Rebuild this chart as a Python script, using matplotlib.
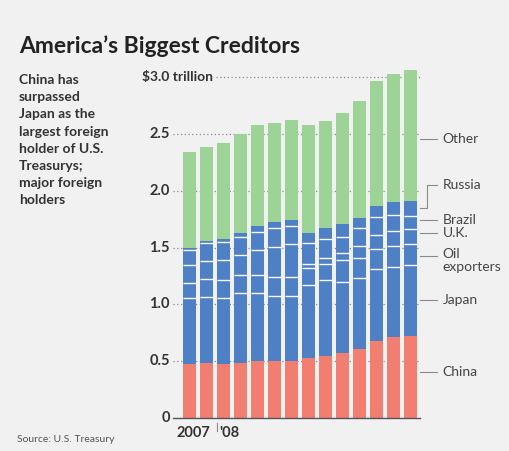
import numpy as np
import matplotlib
matplotlib.use("Agg")
import matplotlib.pyplot as plt

plt.rcParams["font.family"] = ["Lato", "DejaVu Sans"]

# values in $ trillion, one bar per month (late 2007 through 2008)
china  = [0.475, 0.490, 0.480, 0.486, 0.500, 0.503, 0.500, 0.530, 0.550, 0.575, 0.613, 0.680, 0.710, 0.725]
japan  = [0.579, 0.579, 0.580, 0.612, 0.598, 0.574, 0.577, 0.640, 0.665, 0.625, 0.617, 0.632, 0.622, 0.622]
oil    = [0.136, 0.151, 0.155, 0.161, 0.161, 0.168, 0.168, 0.148, 0.141, 0.191, 0.176, 0.176, 0.185, 0.182]
uk     = [0.157, 0.162, 0.176, 0.176, 0.220, 0.257, 0.287, 0.042, 0.050, 0.059, 0.108, 0.123, 0.129, 0.134]
brazil = [0.133, 0.156, 0.161, 0.161, 0.161, 0.168, 0.158, 0.178, 0.167, 0.146, 0.156, 0.161, 0.140, 0.117]
russia = [0.020, 0.020, 0.024, 0.030, 0.053, 0.058, 0.053, 0.088, 0.097, 0.111, 0.093, 0.096, 0.112, 0.132]
other  = [0.842, 0.828, 0.840, 0.869, 0.881, 0.864, 0.878, 0.948, 0.942, 0.973, 1.028, 1.099, 1.125, 1.149]

yticks = [0, 0.5, 1.0, 1.5, 2.0, 2.5]
ytick_labels = ["0", "0.5", "1.0", "1.5", "2.0", "2.5"]

RED   = "#f27e71"
BLUE  = "#4d80c5"
GREEN = "#9dd396"
BG    = "#f1f1f1"
TXT   = "#333333"

fig = plt.figure(figsize=(5.1, 4.51), dpi=100, facecolor=BG)
ax = fig.add_axes([173/510, 32.7/451, 247/510, 352.8/451])
ax.set_facecolor(BG)

x = np.arange(len(china))
w = 0.76

# stack the segments
blue_parts = [japan, oil, uk, brazil, russia]
bottom = np.array(china)
ax.bar(x, china, w, color=RED, zorder=2)
seps = []
for part in blue_parts:
    ax.bar(x, part, w, bottom=bottom, color=BLUE, zorder=2)
    bottom = bottom + np.array(part)
    seps.append(bottom.copy())
ax.bar(x, other, w, bottom=bottom, color=GREEN, zorder=2)

# thin white lines between the blue groups
for s in seps[:-1]:
    ax.hlines(s, x - w/2, x + w/2, color="white", lw=1.0, zorder=3)

ax.set_xlim(-0.97, 13.56)
ax.set_ylim(0, 3.1)

# dotted gridlines behind the bars
for v in yticks[1:]:
    ax.axhline(v, color="#8a8a8a", lw=0.9, ls=(0, (1, 2)), zorder=0)
ax.hlines(3.0, 1.55, 13.56, color="#8a8a8a", lw=0.9, ls=(0, (1, 2)), zorder=0)

for side in ["top", "right", "left"]:
    ax.spines[side].set_visible(False)
ax.spines["bottom"].set_color("#555555")
ax.spines["bottom"].set_linewidth(1.0)
ax.set_xticks([])
ax.set_yticks([])

for v, lab in zip(yticks, ytick_labels):
    ax.text(-1.15, v, lab, ha="right", va="center", fontsize=10.5,
            fontweight="bold", color=TXT)
ax.text(-2.8, 3.0, "$3.0 trillion", ha="left", va="center", fontsize=10,
        fontweight="bold", color=TXT)

# x labels
ax.text(0.2, -0.13, "2007", ha="center", va="center", fontsize=10.5,
        fontweight="bold", color=TXT)
ax.text(1.75, -0.13, "'08", ha="left", va="center", fontsize=10.5,
        fontweight="bold", color=TXT)
ax.plot([1.63, 1.63], [-0.04, -0.11], color="#888888", lw=0.8, clip_on=False)

# right-hand labels with leader lines
label_names = ["Other", "Brazil", "U.K.", "Oil\nexporters", "Japan", "China"]
label_y = [2.45, 1.74, 1.63, 1.43, 1.04, 0.41]
x0, x1, xt = 13.56, 14.55, 14.9
for name, yy in zip(label_names, label_y):
    ax.plot([x0, x1], [yy, yy], color="#8a8a8a", lw=0.8, clip_on=False)
    va = "top" if "\n" in name else "center"
    ax.text(xt, yy + (0.07 if va == "top" else 0), name, ha="left", va=va,
            fontsize=10, color="#444444", linespacing=1.1)
# Russia label is bent up
ax.plot([x0, 14.0, 14.0, x1], [1.85, 1.85, 2.05, 2.05], color="#8a8a8a",
        lw=0.8, clip_on=False)
ax.text(xt, 2.05, "Russia", ha="left", va="center", fontsize=10, color="#444444")

fig.text(19/510, 1 - 53/451, "America\u2019s Biggest Creditors", ha="left",
         va="baseline", fontsize=16.5, fontweight="bold", color="#222222")
fig.text(19/510, 1 - 74/451,
         "China has\nsurpassed\nJapan as the\nlargest foreign\nholder of U.S.\n"
         "Treasurys;\nmajor foreign\nholders",
         ha="left", va="top", fontsize=10, fontweight="bold", color=TXT,
         linespacing=1.52)
fig.text(17/510, 1 - 440/451, "Source: U.S. Treasury", ha="left", va="center",
         fontsize=7.5, color="#555555")

fig.savefig("out.png", dpi=100, facecolor=BG)
